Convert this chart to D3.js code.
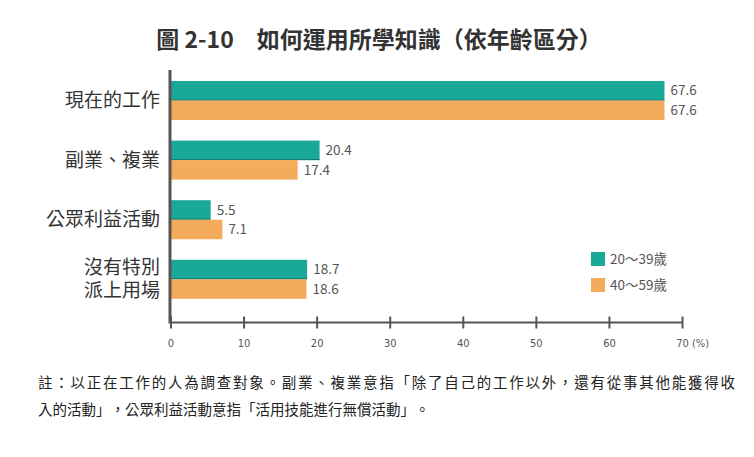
<!DOCTYPE html>
<html><head><meta charset="utf-8">
<script src="https://cdn.jsdelivr.net/npm/d3@7"></script>
<style>
html,body{margin:0;padding:0;background:#fff;}
svg{display:block;font-family:"Noto Sans CJK TC","Noto Sans CJK SC","Noto Sans",sans-serif;}
svg text{text-spacing-trim:space-all;font-kerning:none;}
</style></head>
<body><svg id="chart" width="754" height="457"></svg>
<script>
const categories = [["現在的工作"],["副業、複業"],["公眾利益活動"],["沒有特別","派上用場"]];
const seriesNames = ["20～39歲","40～59歲"];
const young = [67.6, 20.4, 5.5, 18.7];
const older = [67.6, 17.4, 7.1, 18.6];
const xTicks = [0,10,20,30,40,50,60,70];
const colors = ["#1aa898","#f4ab5c"];
const title = "圖 2-10　如何運用所學知識（依年齡區分）";
const noteLines = ["註：以正在工作的人為調查對象。副業、複業意指「除了自己的工作以外，還有從事其他能獲得收","入的活動」，公眾利益活動意指「活用技能進行無償活動」。"];

const svg = d3.select("#chart");
const x = d3.scaleLinear().domain([0,70]).range([170.5, 682]);
const y = d3.scaleBand().domain(d3.range(categories.length)).range([70.5, 309.3]).paddingInner(0.345).paddingOuter(0.176);
const ySub = d3.scaleBand().domain([0,1]).range([0, y.bandwidth()]);
const series = [young, older];

svg.append("text").attr("x", 379).attr("y", 48).attr("text-anchor","middle")
  .attr("font-size", 23).attr("font-weight", 700).attr("fill", "#333").text(title);

// bars
series.forEach((vals, s) => {
  const g = svg.append("g");
  g.selectAll("rect").data(vals).join("rect")
    .attr("x", x(0)).attr("y", (d,i) => y(i) + ySub(s))
    .attr("width", d => x(d) - x(0)).attr("height", ySub.bandwidth())
    .attr("fill", colors[s]);
  if (s === 0) {
    g.selectAll("line").data(vals).join("line")
      .attr("x1", x(0)).attr("x2", d => x(d))
      .attr("y1", (d,i) => y(i) + ySub.bandwidth() - 0.5)
      .attr("y2", (d,i) => y(i) + ySub.bandwidth() - 0.5)
      .attr("stroke", "#13786c").attr("stroke-width", 1);
  }
  g.selectAll("text").data(vals).join("text")
    .attr("x", d => x(d) + 6).attr("y", (d,i) => y(i) + ySub(s) + ySub.bandwidth()/2)
    .attr("dy", "0.35em").attr("font-size", 13.5).attr("fill", "#555")
    .text(d => d.toFixed(1));
});

// x axis
const xAxis = d3.axisBottom(x).tickValues(xTicks).tickSize(0).tickFormat(d3.format("d"));
const ax = svg.append("g").attr("transform", "translate(0,322.5)").call(xAxis);
ax.select(".domain").remove();
ax.selectAll(".tick text").attr("dy", 0).attr("y", 24).attr("font-size", 11).attr("fill", "#555")
  .attr("font-family", "'Liberation Sans Narrow','DejaVu Sans Condensed',sans-serif");
ax.selectAll(".tick").append("line").attr("y1", -6).attr("y2", 6).attr("stroke", "#555").attr("stroke-width", 2);
svg.append("line").attr("x1", x(0)).attr("x2", x(70)).attr("y1", 322.5).attr("y2", 322.5)
  .attr("stroke", "#555").attr("stroke-width", 2);
svg.append("text").attr("x", x(70) + 10).attr("y", 346.5).attr("font-size", 11).attr("fill", "#555")
  .attr("font-family", "'Liberation Sans Narrow','DejaVu Sans Condensed',sans-serif").text("(%)");
// y axis line
svg.append("line").attr("x1", 170).attr("x2", 170).attr("y1", 70).attr("y2", 323.5)
  .attr("stroke", "#555").attr("stroke-width", 3);

// category labels
categories.forEach((lines, i) => {
  const cy = y(i) + y.bandwidth()/2;
  const lh = 23;
  lines.forEach((t, j) => {
    svg.append("text").attr("x", 160).attr("y", cy + (j - (lines.length-1)/2) * lh)
      .attr("dy", "0.35em").attr("text-anchor", "end").attr("font-size", 19).attr("fill", "#333").text(t);
  });
});

// legend
seriesNames.forEach((n, s) => {
  const ly = 252 + s * 26;
  svg.append("rect").attr("x", 591).attr("y", ly).attr("width", 14).attr("height", 14).attr("fill", colors[s]);
  svg.append("text").attr("x", 610).attr("y", ly + 7).attr("dy", "0.35em").attr("font-size", 13.5).attr("fill", "#555").text(n);
});

// notes
svg.append("text").attr("x", 38).attr("y", 388).attr("font-size", 14.5).attr("fill", "#222")
  .attr("textLength", 697).attr("lengthAdjust", "spacing").text(noteLines[0]);
svg.append("text").attr("x", 38).attr("y", 415).attr("font-size", 14.5).attr("fill", "#222").text(noteLines[1]);
</script></body></html>
